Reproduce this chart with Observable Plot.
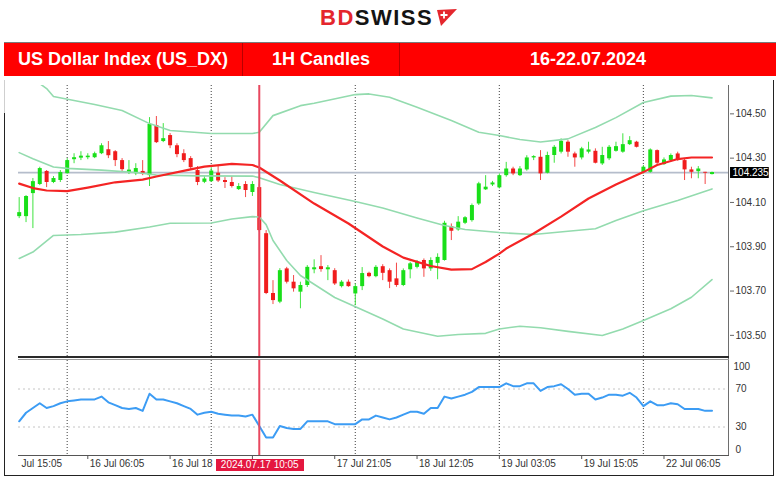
<!DOCTYPE html>
<html><head><meta charset="utf-8">
<script src="https://cdn.jsdelivr.net/npm/d3@7"></script>
<script src="https://cdn.jsdelivr.net/npm/@observablehq/plot@0.6"></script>
<style>
html,body{margin:0;padding:0;background:#fff;}
body{width:780px;height:478px;position:relative;overflow:hidden;font-family:"Liberation Sans",Arial,sans-serif;}
#logo{position:absolute;left:320px;top:7px;font-size:22px;line-height:22px;font-weight:bold;letter-spacing:1.5px;white-space:nowrap;}
#logo .bd{color:#e4262d;}#logo .sw{color:#141414;}
#flag{position:absolute;left:436px;top:9px;}
#hdr{position:absolute;left:4px;top:42px;width:772px;height:34px;background:#ff0000;border-top:1px solid #7a7a7a;box-sizing:border-box;display:flex;}
#hdr div{color:#fff;font-weight:bold;font-size:18px;display:flex;align-items:center;justify-content:center;height:33px;box-sizing:border-box;}
#c1{width:239px;border-right:1px solid #b80000;}
#c2{width:157px;border-right:1px solid #b80000;}
#c3{flex:1;}
#pa{position:absolute;left:0;top:80px;width:780px;height:277px;}
#pb{position:absolute;left:0;top:357px;width:780px;height:118px;}
#pa svg,#pb svg{max-width:none !important;width:780px;}
.ln{position:absolute;}
#evlab{position:absolute;top:459px;height:12px;width:88px;background:#e4173f;color:#fff;font-size:10px;line-height:12px;text-align:center;white-space:nowrap;}
</style></head><body>
<div id="logo"><span class="bd">BD</span><span class="sw">SWISS</span></div>
<svg id="flag" width="22" height="18" viewBox="0 0 22 18"><polygon points="1,1 21,0 5,17" fill="#e4262d"/><path d="M8 2.5v7M4.5 6h7" stroke="#fff" stroke-width="1.8"/></svg>
<div id="hdr"><div id="c1">US Dollar Index (US_DX)</div><div id="c2">1H Candles</div><div id="c3">16-22.07.2024</div></div>
<div id="pa"></div><div id="pb"></div>
<div class="ln" style="left:728px;top:85px;width:1px;height:371px;background:#6e6e6e"></div>
<div class="ln" style="left:18px;top:455px;width:711px;height:1px;background:#555"></div>
<div class="ln" style="left:18px;top:356px;width:711px;height:2px;background:#2a2a2a"></div>
<div class="ln" style="left:18px;top:359px;width:711px;height:1px;background:#9a9a9a"></div>
<div class="ln" style="left:4px;top:80px;width:1px;height:33px;background:#cfcfcf"></div>
<div class="ln" style="left:4px;top:113px;width:1px;height:362px;background:#222"></div>
<div class="ln" style="left:773px;top:80px;width:1px;height:395px;background:#222"></div>
<div class="ln" style="left:4px;top:475px;width:770px;height:1px;background:#222"></div>
<div id="evlab"></div>
<script>
// ---- data ----
const open = [104.036,104.036,104.140,104.181,104.240,104.190,104.199,104.230,104.293,104.300,
104.302,104.302,104.320,104.338,104.329,104.289,104.235,104.230,104.240,104.221,
104.447,104.375,104.402,104.356,104.320,104.298,104.244,104.191,104.194,104.232,
104.199,104.190,104.158,104.181,104.145,104.167,103.959,103.689,103.650,103.800,
103.740,103.695,103.725,103.796,103.810,103.796,103.792,103.720,103.740,103.687,
103.720,103.780,103.765,103.810,103.792,103.755,103.725,103.796,103.807,103.838,
103.800,103.825,103.838,103.991,103.976,104.006,104.018,104.093,104.157,104.179,
104.166,104.221,104.251,104.221,104.247,104.301,104.304,104.232,104.312,104.327,
104.372,104.319,104.301,104.327,104.331,104.274,104.297,104.331,104.327,104.361,
104.372,104.236,104.236,104.334,104.271,104.289,104.319,104.289,104.247,104.239,
104.236,104.226];
const high = [104.122,104.131,104.208,104.259,104.244,104.217,104.244,104.298,104.320,104.329,
104.320,104.327,104.365,104.375,104.334,104.298,104.289,104.275,104.289,104.483,
104.488,104.456,104.411,104.365,104.338,104.307,104.262,104.217,104.257,104.262,
104.212,104.217,104.185,104.194,104.194,104.183,103.973,103.747,103.801,103.807,
103.770,103.740,103.815,103.841,103.860,103.815,103.801,103.747,103.750,103.732,
103.806,103.785,103.815,103.819,103.800,103.826,103.800,103.830,103.838,103.845,
103.850,103.868,104.015,104.003,104.036,104.036,104.093,104.191,104.221,104.195,
104.229,104.281,104.259,104.262,104.311,104.311,104.334,104.327,104.357,104.387,
104.379,104.327,104.349,104.372,104.342,104.349,104.357,104.372,104.410,104.397,
104.376,104.267,104.342,104.337,104.301,104.319,104.327,104.298,104.259,104.262,
104.236,104.237];
const low = [104.027,104.009,103.982,104.176,104.167,104.185,104.190,104.228,104.275,104.289,
104.293,104.298,104.316,104.298,104.262,104.235,104.226,104.221,104.221,104.172,
104.366,104.370,104.343,104.302,104.280,104.244,104.176,104.185,104.190,104.190,
104.163,104.165,104.154,104.122,104.127,103.966,103.684,103.639,103.643,103.732,
103.695,103.620,103.716,103.778,103.785,103.747,103.725,103.714,103.717,103.634,
103.702,103.760,103.760,103.747,103.711,103.717,103.720,103.755,103.800,103.762,
103.789,103.751,103.835,103.928,103.970,104.000,104.011,104.086,104.154,104.172,
104.161,104.214,104.221,104.217,104.241,104.289,104.199,104.229,104.277,104.319,
104.304,104.259,104.292,104.319,104.274,104.267,104.289,104.327,104.322,104.357,
104.346,104.229,104.232,104.271,104.267,104.281,104.286,104.199,104.207,104.207,
104.181,104.224];
const close = [104.054,104.127,104.194,104.253,104.190,104.208,104.235,104.289,104.302,104.309,
104.309,104.320,104.356,104.311,104.289,104.248,104.246,104.253,104.226,104.452,
104.370,104.388,104.356,104.316,104.289,104.257,104.190,104.206,104.242,104.197,
104.190,104.172,104.172,104.154,104.181,103.973,103.689,103.657,103.792,103.740,
103.710,103.725,103.807,103.805,103.797,103.805,103.732,103.740,103.720,103.720,
103.779,103.765,103.807,103.780,103.740,103.725,103.792,103.823,103.830,103.800,
103.838,103.852,104.006,103.970,104.011,104.031,104.086,104.184,104.169,104.188,
104.221,104.251,104.229,104.251,104.301,104.307,104.229,104.312,104.349,104.376,
104.327,104.301,104.342,104.337,104.277,104.312,104.349,104.352,104.361,104.379,
104.349,104.259,104.337,104.277,104.292,104.312,104.292,104.247,104.236,104.251,
104.232,104.235];
const rsi = [36,45,50,55,50,52,55,57,58,59,
59,59,62,56,53,50,49,50,47,65,
59,59,57,55,52,49,43,45,46,44,
43,42,42,41,43,31,19,19,31,29,
28,28,36,36,36,36,33,33,33,33,
38,38,42,40,38,40,43,46,46,44,
50,50,62,60,62,64,67,72,72,72,
72,76,73,73,76,76,68,72,73,75,
70,64,65,65,59,61,64,64,63,66,
61,52,57,53,53,55,54,49,49,49,
47,47];
// Bollinger bands and moving average, sampled at bar indices
const upperIdx = [0,2,4,5,8,11,15,19,22,28,34,35,37,41,43,49,51,54,58,63,67,70,73,76,80,84,87,91,95,98,101];
const upper = [104.705,104.659,104.614,104.578,104.560,104.542,104.515,104.456,104.425,104.411,104.411,104.417,104.492,104.537,104.548,104.587,104.590,104.575,104.530,104.470,104.417,104.402,104.384,104.373,104.387,104.438,104.483,104.551,104.580,104.583,104.572];
const midIdx = [0,2,5,7,12,17,20,26,34,35,38,43,49,53,58,62,65,70,75,80,84,87,91,96,101];
const mid = [104.325,104.297,104.260,104.254,104.246,104.235,104.224,104.220,104.219,104.212,104.181,104.145,104.104,104.075,104.030,103.996,103.978,103.964,103.955,103.970,103.981,104.018,104.063,104.109,104.161];
const lowerIdx = [0,2,5,9,14,19,22,28,31,34,35,36,37,39,41,46,50,53,56,61,64,68,70,73,76,80,85,88,91,95,98,101];
const lower = [103.847,103.876,103.951,103.955,103.966,103.989,104.006,104.007,104.025,104.036,104.034,104.000,103.928,103.838,103.770,103.671,103.616,103.574,103.529,103.496,103.504,103.509,103.529,103.541,103.534,103.518,103.499,103.529,103.567,103.620,103.672,103.752];
const maIdx = [0,2,4,7,10,14,18,20,25,27,31,34,35,38,43,48,53,56,60,63,66,68,70,71,75,79,83,87,91,93,96,98,101];
const ma = [104.185,104.165,104.154,104.151,104.167,104.191,104.203,104.217,104.249,104.262,104.274,104.269,104.258,104.199,104.095,104.005,103.901,103.851,103.813,103.797,103.799,103.831,103.869,103.892,103.960,104.036,104.118,104.181,104.237,104.269,104.296,104.303,104.303];
// axes / labels (labels partly covered by the time cursor are shown as visible)
const priceTicks = [103.5,103.7,103.9,104.1,104.3,104.5];
const rsiTicks = [100,70,30,0];
const tickIdx = [-2,10,22,34,46,58,70,82,94];
const tickLabels = ["Jul 15:05","16 Jul 06:05","16 Jul 18","","17 Jul 21:05","18 Jul 12:05","19 Jul 03:05","19 Jul 15:05","22 Jul 06:05"];
const gridIdx = [7,28,49,70,91];
const eventIdx = 35;
const eventLabel = "2024.07.17 10:05";

// ---- drawing ----
const xDomain = [-0.1, 103.55];
const GREEN = "#19df19", RED = "#f01c1c", GREENW = "#3fe43f", REDW = "#f44848";
const BAND = "#93dbae", MA = "#f42424", RSI = "#3c9cf4", EVENT = "#e8485f", GRID = "#5e5e5e";
const idx = d3.range(open.length);
const upIdx = idx.filter(i => close[i] >= open[i]);
const dnIdx = idx.filter(i => close[i] < open[i]);
const last = close[close.length - 1];
const labelIdx = tickIdx.slice(1).filter((d, k) => tickLabels[k + 1] !== "");
const style = {fontFamily: "'Liberation Sans', Arial, sans-serif", fontSize: "10px", color: "#333", background: "transparent", overflow: "visible", maxWidth: "none"};

const plotA = Plot.plot({
  width: 780, height: 277, marginTop: 5, marginBottom: 0, marginLeft: 18, marginRight: 51,
  x: {domain: xDomain, axis: null},
  y: {domain: [103.400, 104.628], axis: null},
  style,
  marks: [
    Plot.ruleX(gridIdx, {x: d => d, stroke: GRID, strokeWidth: 1.2, strokeDasharray: "1,2"}),
    Plot.ruleY([last], {stroke: "#b5bdcb", strokeWidth: 1.8}),
    Plot.ruleX(upIdx, {x: i => i, y1: i => low[i], y2: i => high[i], stroke: GREENW, strokeWidth: 1}),
    Plot.ruleX(dnIdx, {x: i => i, y1: i => low[i], y2: i => high[i], stroke: REDW, strokeWidth: 1}),
    Plot.ruleX(upIdx, {x: i => i, y1: i => open[i], y2: i => close[i], stroke: GREEN, strokeWidth: 4}),
    Plot.ruleX(dnIdx, {x: i => i, y1: i => open[i], y2: i => close[i], stroke: RED, strokeWidth: 4}),
    Plot.line(upperIdx, {x: d => d, y: (d, k) => upper[k], stroke: BAND, strokeWidth: 1.6, clip: true}),
    Plot.line(midIdx, {x: d => d, y: (d, k) => mid[k], stroke: BAND, strokeWidth: 1.6, clip: true}),
    Plot.line(lowerIdx, {x: d => d, y: (d, k) => lower[k], stroke: BAND, strokeWidth: 1.6, clip: true}),
    Plot.line(maIdx, {x: d => d, y: (d, k) => ma[k], stroke: MA, strokeWidth: 2.2, clip: true}),
    Plot.ruleX([eventIdx], {x: d => d, stroke: EVENT, strokeWidth: 2}),
    Plot.axisY({anchor: "right", ticks: priceTicks, tickSize: 4, tickPadding: 2, tickFormat: d => d.toFixed(2), stroke: "#666", fill: "#333"}),
    Plot.ruleY([last], {x1: () => xDomain[1] + 0.15, x2: () => xDomain[1] + 5.8, y: d => d, stroke: "#000", strokeWidth: 11}),
    Plot.text([last], {x: () => xDomain[1] + 0.15, y: d => d, text: d => d.toFixed(3), dx: 2, textAnchor: "start", fill: "#fff", fontSize: 10})
  ]
});
document.getElementById("pa").appendChild(plotA);

const plotB = Plot.plot({
  width: 780, height: 118, marginTop: 3, marginBottom: 20, marginLeft: 18, marginRight: 51,
  x: {domain: xDomain, axis: null},
  y: {domain: [0, 100], axis: null},
  style,
  marks: [
    Plot.ruleY([70, 30], {stroke: "#c4c4c4", strokeDasharray: "2,3"}),
    Plot.ruleX(gridIdx, {x: d => d, stroke: GRID, strokeWidth: 1.2, strokeDasharray: "1,2"}),
    Plot.line(idx, {x: i => i, y: i => rsi[i], stroke: RSI, strokeWidth: 2}),
    Plot.ruleX([eventIdx], {x: d => d, stroke: EVENT, strokeWidth: 2}),
    Plot.axisX({ticks: tickIdx.slice(1), tickSize: 4, tickFormat: () => "", stroke: "#555"}),
    Plot.text(labelIdx, {x: d => d, text: d => tickLabels[tickIdx.indexOf(d)], frameAnchor: "bottom", dy: 11, dx: 2, textAnchor: "start", fill: "#333"}),
    Plot.text([tickIdx[0]], {x: d => d, text: () => tickLabels[0], frameAnchor: "bottom", dy: 11, dx: 16, textAnchor: "start", fill: "#333"}),
    Plot.text([rsiTicks[1], rsiTicks[2]], {y: d => d, text: d => String(d), frameAnchor: "right", dx: 6, textAnchor: "start", fill: "#333"}),
    Plot.text([rsiTicks[0]], {y: d => d, text: d => String(d), frameAnchor: "right", dx: 4, dy: 6, textAnchor: "start", fill: "#333"}),
    Plot.text([rsiTicks[3]], {y: d => d, text: d => String(d), frameAnchor: "right", dx: 6, dy: -6, textAnchor: "start", fill: "#333"})
  ]
});
document.getElementById("pb").appendChild(plotB);

const ev = document.getElementById("evlab");
ev.textContent = eventLabel;
ev.style.left = (plotB.scale("x").apply(eventIdx) - 43) + "px";
</script>
</body></html>
